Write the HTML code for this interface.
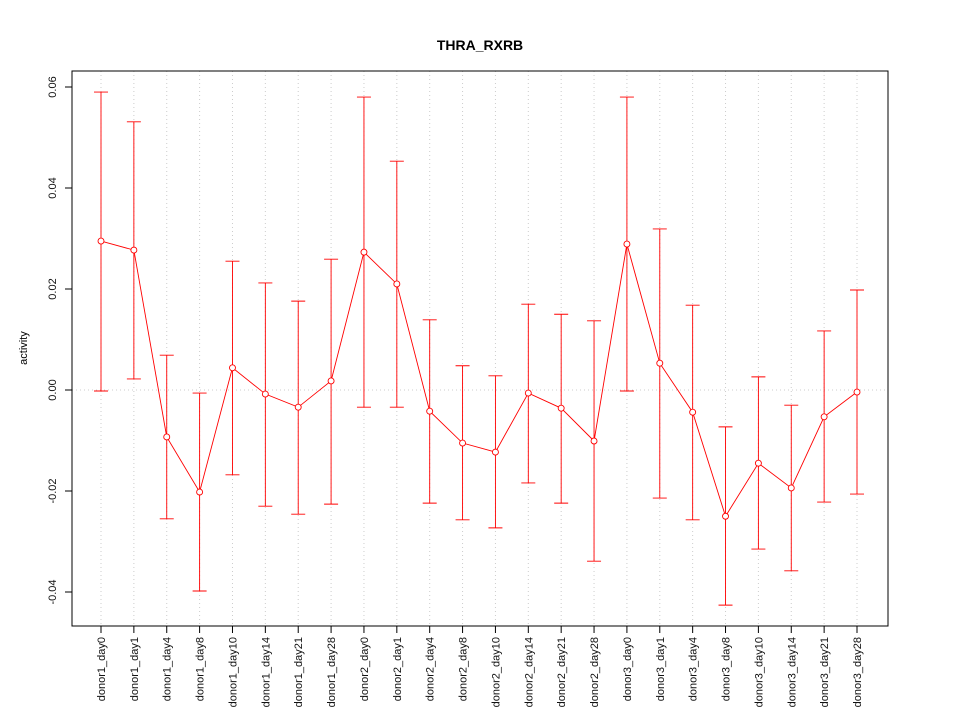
<!DOCTYPE html>
<html><head><meta charset="utf-8"><style>
body{margin:0;background:#fff}
svg{display:block;font-family:"Liberation Sans",sans-serif}
</style></head><body>
<svg id="chart" width="960" height="720">
<rect width="960" height="720" fill="#fff"/>
<text x="480" y="50" text-anchor="middle" font-weight="bold" font-size="14">THRA_RXRB</text>
<text transform="translate(27,348) rotate(-90)" text-anchor="middle" font-size="11">activity</text>
<g id="grid"></g><g id="axes"></g><g id="series"></g>
<rect x="72" y="71" width="816" height="555" fill="none" stroke="#000"/>
</svg>
<script>
const categories=["donor1_day0","donor1_day1","donor1_day4","donor1_day8","donor1_day10","donor1_day14","donor1_day21","donor1_day28","donor2_day0","donor2_day1","donor2_day4","donor2_day8","donor2_day10","donor2_day14","donor2_day21","donor2_day28","donor3_day0","donor3_day1","donor3_day4","donor3_day8","donor3_day10","donor3_day14","donor3_day21","donor3_day28"];
const means=[0.0295,0.0277,-0.0093,-0.0202,0.0044,-0.0008,-0.0034,0.0018,0.0273,0.0210,-0.0042,-0.0105,-0.0123,-0.0006,-0.0036,-0.0101,0.0289,0.0053,-0.0044,-0.0250,-0.0145,-0.0194,-0.0053,-0.0004];
const uppers=[0.0590,0.0531,0.0069,-0.0006,0.0255,0.0212,0.0176,0.0259,0.0580,0.0453,0.0139,0.0048,0.0028,0.0170,0.0150,0.0137,0.0580,0.0319,0.0168,-0.0073,0.0026,-0.0030,0.0117,0.0198];
const lowers=[-0.0002,0.0022,-0.0255,-0.0398,-0.0168,-0.0230,-0.0246,-0.0226,-0.0034,-0.0034,-0.0224,-0.0257,-0.0273,-0.0184,-0.0224,-0.0339,-0.0002,-0.0214,-0.0257,-0.0426,-0.0315,-0.0358,-0.0222,-0.0206];
const yTicks=[-0.04,-0.02,0.00,0.02,0.04,0.06];
const yTickLabels=["-0.04","-0.02","0.00","0.02","0.04","0.06"];
const NS="http://www.w3.org/2000/svg";
function X(i){return 101+i*(857-101)/(categories.length-1);}
function Y(v){return 390-v/0.02*101;}
function mk(tag,attrs,parent){const e=document.createElementNS(NS,tag);for(const k in attrs)e.setAttribute(k,attrs[k]);parent.appendChild(e);return e;}
const grid=document.getElementById('grid'),axes=document.getElementById('axes'),ser=document.getElementById('series');
categories.forEach((c,i)=>{
  const g=mk('line',{x1:X(i),x2:X(i),y1:71,y2:626,stroke:'#ccc','stroke-dasharray':'1,3'},grid);
  
  
  const t=mk('line',{x1:X(i),x2:X(i),y1:626,y2:633,stroke:'#000'},axes);
  
  
  const l=mk('text',{transform:`translate(${X(i)+4},637) rotate(-90)`,'text-anchor':'end','font-size':'11',fill:'#111'},axes);
  l.textContent=c;
  
  
});
const h=mk('line',{x1:72,x2:888,y1:Y(0),y2:Y(0),stroke:'#ccc','stroke-dasharray':'1,3'},grid);


yTicks.forEach((v,i)=>{
  const t=mk('line',{x1:65,x2:72,y1:Y(v),y2:Y(v),stroke:'#000'},axes);
  
  
  const l=mk('text',{transform:`translate(56,${Y(v)}) rotate(-90)`,'text-anchor':'middle','font-size':'11',fill:'#111'},axes);
  l.textContent=yTickLabels[i];
  
  
});
categories.forEach((c,i)=>{
  const x=X(i);
  const e=mk('path',{d:`M${x},${Y(uppers[i])}V${Y(lowers[i])}M${x-7},${Y(uppers[i])}H${x+7}M${x-7},${Y(lowers[i])}H${x+7}`,stroke:'red','stroke-width':'0.9',fill:'none'},ser);
  
  
});
const line=mk('polyline',{points:means.map((v,i)=>X(i)+','+Y(v)).join(' '),stroke:'red','stroke-width':'0.9',fill:'none'},ser);


means.forEach((v,i)=>{
  const p=mk('circle',{cx:X(i),cy:Y(v),r:3,stroke:'red','stroke-width':'0.9',fill:'#fff'},ser);
  
  
});
</script>
</body></html>
